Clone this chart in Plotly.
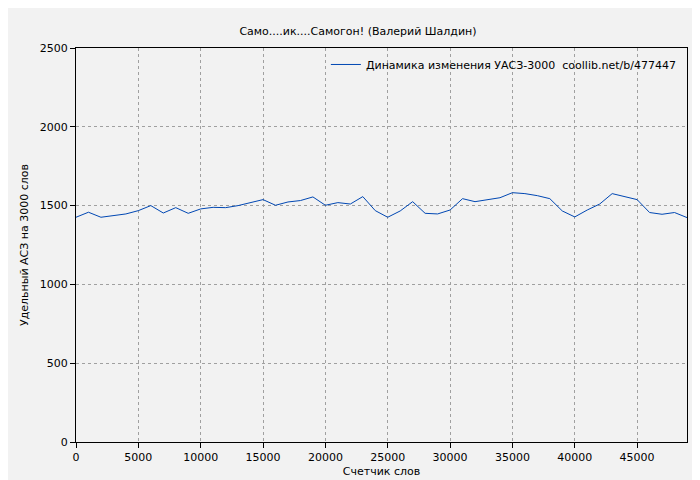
import plotly.graph_objects as go

words = list(range(0, 50000, 1000))
acs = [1426, 1458, 1426, 1437, 1447, 1468, 1500, 1453, 1487, 1451,
       1479, 1489, 1487, 1500, 1519, 1538, 1502, 1523, 1532, 1555,
       1502, 1519, 1510, 1557, 1468, 1426, 1466, 1525, 1451, 1447,
       1472, 1544, 1525, 1538, 1550, 1582, 1576, 1563, 1544, 1466,
       1428, 1472, 1510, 1576, 1557, 1538, 1456, 1445, 1456, 1424]

fig = go.Figure()
fig.add_trace(go.Scatter(
    x=words, y=acs, mode='lines',
    line=dict(color='#0047b3', width=1),
    name='Динамика изменения УАСЗ-3000  coollib.net/b/477447',
))

axis = dict(
    showgrid=True, gridcolor='#a0a0a0', griddash='dot', gridwidth=1,
    showline=True, linecolor='black', linewidth=1, mirror=True,
    ticks='outside', tickcolor='black', ticklen=5, zeroline=False,
    tickfont=dict(size=11, color='black'), tickformat='d', automargin=False,
)
fig.update_layout(
    width=700, height=480,
    paper_bgcolor='#f2f2f2', plot_bgcolor='#f2f2f2',
    font=dict(family='DejaVu Sans', size=11, color='black'),
    title=dict(text='Само....ик....Самогон! (Валерий Шалдин)', x=0.5, y=0.96,
               font=dict(size=11)),
    xaxis=dict(axis, range=[0, 49000], dtick=5000,
               title=dict(text='Счетчик слов', standoff=4, font=dict(size=11))),
    yaxis=dict(axis, range=[0, 2500], dtick=500,
               title=dict(text='Удельный АСЗ на 3000 слов', standoff=8, font=dict(size=11))),
    showlegend=True,
    legend=dict(x=0.99, y=0.995, xanchor='right', yanchor='top', bgcolor='rgba(0,0,0,0)',
                font=dict(size=11)),
    margin=dict(l=68, r=21, t=40, b=46),
)

fig.write_html('out.html')
